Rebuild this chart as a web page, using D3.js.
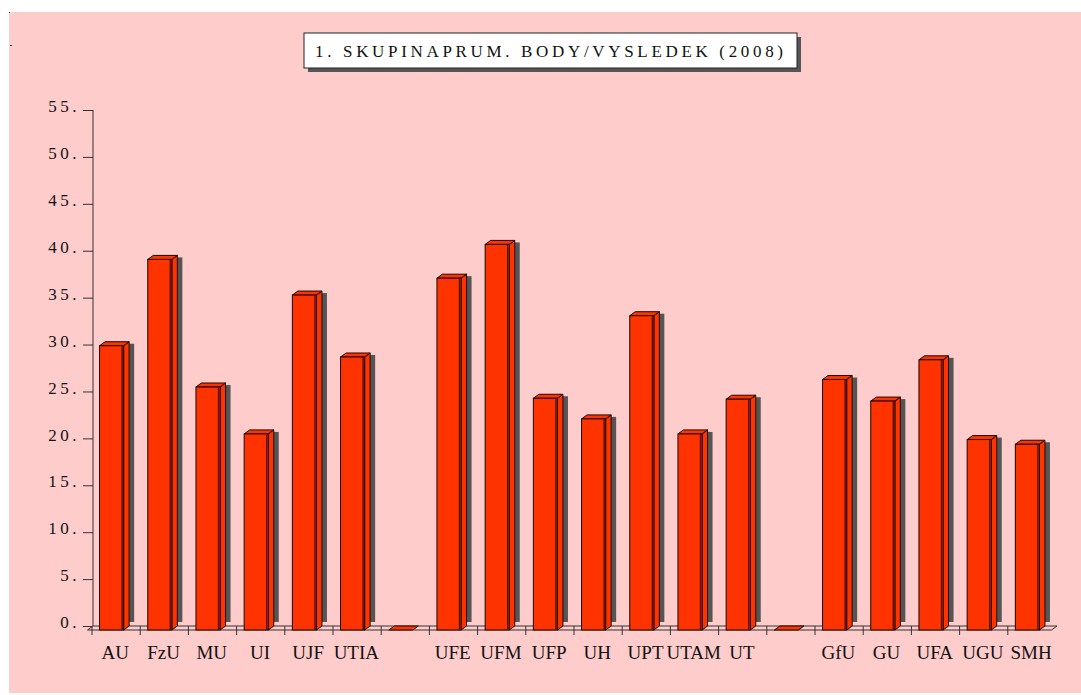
<!DOCTYPE html>
<html>
<head>
<meta charset="utf-8">
<script src="https://cdn.jsdelivr.net/npm/d3@7"></script>
<style>
  html, body { margin: 0; padding: 0; background: #ffffff; }
  svg { display: block; }
  text { font-family: "Liberation Serif", "DejaVu Serif", serif; fill: #111; }
</style>
</head>
<body>
<svg id="chart" width="1081" height="695"></svg>
<script>
// ---- data ----
const categories = ["AU", "FzU", "MU", "UI", "UJF", "UTIA", "", "UFE", "UFM", "UFP", "UH", "UPT", "UTAM", "UT", "", "GfU", "GU", "UFA", "UGU", "SMH"];
const values = [30.3, 39.5, 25.9, 20.9, 35.7, 29.1, 0, 37.5, 41.1, 24.7, 22.5, 33.5, 20.9, 24.6, 0, 26.7, 24.4, 28.8, 20.3, 19.8];
const yTicks = [0, 5, 10, 15, 20, 25, 30, 35, 40, 45, 50, 55];
const titleText = "1. SKUPINAPRUM. BODY/VYSLEDEK (2008)";

// ---- layout ----
const svg = d3.select("#chart");
const W = 1081, H = 695;
const dx = 5.5, dy = 4;            // 3D depth offset
const barColor = "#ff3300";
const shadowColor = "#555555";
const edge = "#1a0800";

svg.append("rect").attr("x", 9).attr("y", 12).attr("width", W - 9).attr("height", H - 14).attr("fill", "#ffcccc");
svg.append("rect").attr("x", 9).attr("y", 12).attr("width", 1).attr("height", 1).attr("fill", "#000");
svg.append("rect").attr("x", 10).attr("y", 45).attr("width", 2).attr("height", 1).attr("fill", "#333");

const x = d3.scaleBand().domain(d3.range(categories.length)).range([93, 1057]).paddingInner(0.5).paddingOuter(0.25);
const y = d3.scaleLinear().domain([0, 55]).range([626, 110]);
const step = x.step();
const bw = x.bandwidth();

// y axis (back wall)
const yAxis = d3.axisLeft(y).tickValues(yTicks).tickSize(10).tickFormat(d => d + ".");
const gy = svg.append("g").attr("transform", "translate(93,0)").call(yAxis);
gy.select(".domain").attr("stroke", "#333").attr("d", "M0,110V626");
gy.selectAll(".tick line").attr("stroke", "#333");
gy.selectAll(".tick text")
  .attr("x", -13).attr("dy", "0.1em")
  .style("font-family", "'Liberation Serif', serif")
  .style("font-size", "17px")
  .style("letter-spacing", "3.5px")
  .attr("fill", "#111");

// floor
const x0 = 93, x1 = 1057, yb = y(0);
svg.append("path")
  .attr("d", `M${x0},${yb}L${x1},${yb}L${x1 - dx},${yb + dy}L${x0 - dx},${yb + dy}Z`)
  .attr("fill", "#ffcccc").attr("stroke", "#333").attr("stroke-width", 1);
// x ticks on front edge
svg.append("g").selectAll("line").data(d3.range(categories.length))
  .join("line")
  .attr("x1", i => x0 + i * step - 1).attr("x2", i => x0 + i * step - 1)
  .attr("y1", yb).attr("y2", yb + dy + 5)
  .attr("stroke", "#333");

// bars
const bars = svg.append("g").selectAll("g").data(values.map((v, i) => ({ v, i })))
  .join("g");

bars.each(function(d) {
  const g = d3.select(this);
  const bx = x(d.i);             // back-left x
  const by = y(d.v);             // back top y
  const fx = bx - dx, fy = by + dy; // front-left, front top
  const fb = yb + dy;            // front bottom
  if (d.v > 0) {
    g.append("rect").attr("x", bx + bw).attr("y", by + 2).attr("width", 5).attr("height", Math.max(0, yb - 4 - by - 2))
      .attr("fill", shadowColor);
    g.append("path")
      .attr("d", `M${fx + bw},${fy}L${bx + bw},${by}L${bx + bw},${yb}L${fx + bw},${fb}Z`)
      .attr("fill", barColor).attr("stroke", edge).attr("stroke-width", 1);
    g.append("path")
      .attr("d", `M${fx},${fy}L${bx},${by}L${bx + bw},${by}L${fx + bw},${fy}Z`)
      .attr("fill", barColor).attr("stroke", edge).attr("stroke-width", 1);
    g.append("rect").attr("x", fx).attr("y", fy).attr("width", bw).attr("height", fb - fy)
      .attr("fill", barColor).attr("stroke", edge).attr("stroke-width", 1);
    g.append("line").attr("x1", fx + bw - 1.5).attr("x2", fx + bw - 1.5).attr("y1", fy).attr("y2", fb)
      .attr("stroke", "#5a1500").attr("stroke-width", 1.5);
  } else {
    g.append("path")
      .attr("d", `M${fx},${fy}L${bx},${by}L${bx + bw},${by}L${fx + bw},${fy}Z`)
      .attr("fill", barColor).attr("stroke", edge).attr("stroke-width", 1);
  }
});

// x labels
svg.append("g").selectAll("text").data(categories)
  .join("text")
  .attr("x", (c, i) => x(i) + bw / 2 - dx / 2 + 1)
  .attr("y", 659)
  .attr("text-anchor", "middle")
  .style("font-size", "19px")
  .text(c => c);

// title box
const tb = { x: 304, y: 33, w: 493, h: 35 };
svg.append("rect").attr("x", tb.x + 4).attr("y", tb.y + 4).attr("width", tb.w).attr("height", tb.h).attr("fill", "#555");
svg.append("rect").attr("x", tb.x).attr("y", tb.y).attr("width", tb.w).attr("height", tb.h).attr("fill", "#fff").attr("stroke", "#222").attr("stroke-width", 1);
svg.append("text")
  .attr("x", 315).attr("y", tb.y + 24)
  .attr("textLength", 468).attr("lengthAdjust", "spacing")
  .style("font-size", "17px")
  .text(titleText);
</script>
</body>
</html>
